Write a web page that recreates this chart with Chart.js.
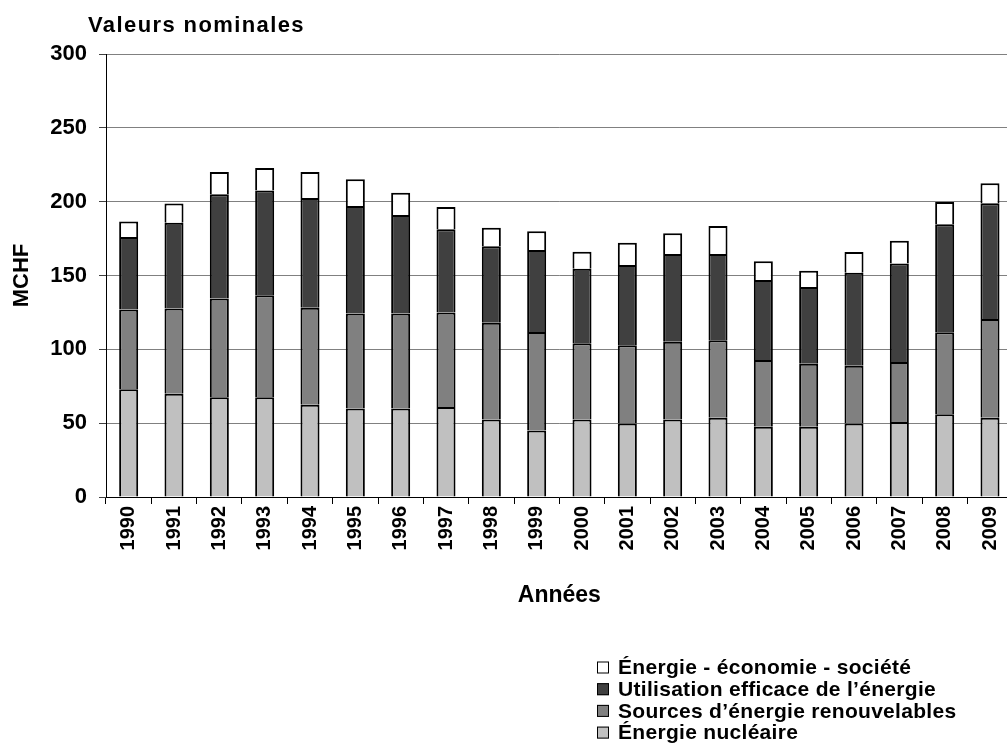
<!DOCTYPE html>
<html>
<head>
<meta charset="utf-8">
<script src="https://cdn.jsdelivr.net/npm/chart.js@4.4.1/dist/chart.umd.min.js"></script>
<style>
    html, body { margin: 0; padding: 0; overflow: hidden; background: #fff; }
    #wrap { width: 1007px; height: 749px; overflow: hidden; }
</style>
</head>
<body>
<div id="wrap">
    <canvas id="chart" width="1016" height="749"></canvas>
</div>
<script>
const years = ['1990', '1991', '1992', '1993', '1994', '1995', '1996', '1997', '1998', '1999',
               '2000', '2001', '2002', '2003', '2004', '2005', '2006', '2007', '2008', '2009'];

// MCHF
const nucleaire     = [73.0, 70.0, 67.6, 67.6, 62.4, 59.9, 59.9, 61.0, 52.5, 45.0, 52.5, 49.8, 52.5, 53.6, 47.5, 47.5, 49.8, 50.8, 56.1, 53.6];
const renouvelables = [54.0, 57.6, 66.9, 69.1, 65.7, 64.4, 64.4, 64.0, 65.5, 66.7, 51.7, 53.0, 52.6, 52.6, 45.2, 42.7, 39.0, 40.7, 55.4, 66.9];
const efficacite    = [49.0, 58.1, 70.5, 70.8, 74.4, 72.8, 66.7, 56.3, 51.8, 55.6, 50.4, 54.3, 59.4, 58.3, 54.2, 52.0, 63.1, 66.7, 73.2, 78.4];
const societe       = [10.5, 13.1, 15.1, 15.3, 17.6, 18.1, 15.1, 15.1, 12.6, 12.6, 11.5, 15.1, 14.1, 19.0, 12.7, 11.0, 14.0, 15.4, 15.1, 13.6];

const yTicks = [0, 50, 100, 150, 200, 250, 300];

const font = 'Arial, "Liberation Sans", sans-serif';

// title + one-column legend drawn by hand
const extras = {
    id: 'extras',
    afterDraw(chart) {
        const ctx = chart.ctx;
        ctx.save();
        ctx.fillStyle = '#000';
        ctx.font = 'bold 22px ' + font;
        ctx.letterSpacing = '1.4px';
        ctx.textAlign = 'left';
        ctx.textBaseline = 'alphabetic';
        ctx.fillText('Valeurs nominales', 88, 32);

        ctx.font = 'bold 21px ' + font;
        ctx.letterSpacing = '0.3px';
        ctx.textBaseline = 'middle';
        const sets = chart.data.datasets.slice().reverse();
        sets.forEach((ds, i) => {
            const cy = 667.5 + i * 21.7;
            ctx.fillStyle = ds.backgroundColor;
            ctx.fillRect(597, cy - 6, 12, 12);
            ctx.strokeStyle = '#000';
            ctx.lineWidth = 1;
            ctx.strokeRect(597.5, cy - 5.5, 11, 11);
            ctx.fillStyle = '#000';
            ctx.fillText(ds.label, 618, cy + 1);
        });
        ctx.restore();
    }
};

const ctx = document.getElementById('chart').getContext('2d');

const myChart = new Chart(ctx, {
    type: 'bar',
    data: {
        labels: years,
        datasets: [
            { label: 'Énergie nucléaire', data: nucleaire, backgroundColor: '#c0c0c0' },
            { label: 'Sources d’énergie renouvelables', data: renouvelables, backgroundColor: '#808080' },
            { label: 'Utilisation efficace de l’énergie', data: efficacite, backgroundColor: '#404040' },
            { label: 'Énergie - économie - société', data: societe, backgroundColor: '#ffffff' },
        ].map(ds => Object.assign(ds, {
            borderColor: '#000',
            borderWidth: 2,
            borderSkipped: 'start',
            barPercentage: 0.42,
            categoryPercentage: 1,
        }))
    },
    options: {
        responsive: false,
        animation: false,
        layout: {
            padding: { top: 54, right: 0, bottom: 130, left: 0 }
        },
        plugins: {
            legend: { display: false },
            tooltip: { enabled: false },
        },
        scales: {
            x: {
                stacked: true,
                grid: {
                    drawOnChartArea: false,
                    drawTicks: true,
                    tickLength: 7,
                    color: '#000',
                },
                border: { color: '#000', width: 1 },
                ticks: {
                    color: '#000',
                    minRotation: 90,
                    maxRotation: 90,
                    padding: 2,
                    font: { family: font, size: 20, weight: 'bold' },
                },
                title: {
                    display: true,
                    text: 'Années',
                    color: '#000',
                    padding: { top: 0, bottom: 10 },
                    font: { family: font, size: 23, weight: 'bold' },
                },
                afterFit(scale) { scale.height = 122; },
            },
            y: {
                stacked: true,
                min: 0,
                max: 300,
                afterBuildTicks(scale) { scale.ticks = yTicks.map(v => ({ value: v })); },
                grid: {
                    color: '#808080',
                    tickColor: '#404040',
                    tickLength: 7,
                    lineWidth: 1,
                },
                border: { color: '#000', width: 1 },
                ticks: {
                    color: '#000',
                    padding: 12,
                    font: { family: font, size: 22, weight: 'bold' },
                },
                title: {
                    display: true,
                    text: 'MCHF',
                    color: '#000',
                    padding: { top: 9, bottom: 0 },
                    font: { family: font, size: 22, weight: 'bold' },
                },
                afterFit(scale) { scale.width = 106; },
            }
        }
    },
    plugins: [extras]
});
</script>
</body>
</html>
